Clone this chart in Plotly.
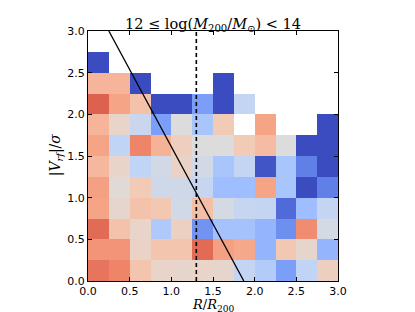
import plotly.graph_objects as go

# bin edges (R/R200 and |V_rf|/sigma)
x_edges = [0.0, 0.25, 0.5, 0.75, 1.0, 1.25, 1.5, 1.75, 2.0, 2.25, 2.5, 2.75, 3.0]
y_edges = [0.0, 0.25, 0.5, 0.75, 1.0, 1.25, 1.5, 1.75, 2.0, 2.25, 2.5, 2.75, 3.0]

# cell values on a 0..1 colour scale (None = empty bin), rows from bottom (y=0) to top
row0 = [0.83, 0.80, 0.62, 0.55, 0.54, 0.55, 0.54, 0.41, 0.36, 0.20, 0.40, 0.58]
row1 = [0.76, 0.76, 0.56, 0.62, 0.62, 0.85, 0.73, 0.71, 0.27, 0.61, 0.54, 0.27]
row2 = [0.85, 0.63, 0.55, 0.35, 0.57, 0.17, 0.32, 0.32, 0.27, 0.16, 0.78, 0.47]
row3 = [0.72, 0.54, 0.63, 0.61, 0.46, 0.64, 0.47, 0.42, 0.41, 0.07, 0.30, 0.41]
row4 = [0.73, 0.52, 0.60, 0.45, 0.45, 0.42, 0.30, 0.30, 0.72, 0.33, 0.00, 0.12]
row5 = [0.66, 0.55, 0.40, 0.46, 0.56, 0.46, 0.33, 0.41, 0.02, 0.33, 0.12, 0.00]
row6 = [0.72, 0.40, 0.80, 0.68, 0.58, 0.50, 0.50, 0.60, 0.65, 0.50, 0.00, 0.00]
row7 = [0.67, 0.55, 0.43, 0.20, 0.50, 0.33, 0.60, None, 0.72, None, None, 0.00]
row8 = [0.87, 0.72, 0.63, 0.00, 0.00, 0.20, 0.00, 0.41, None, None, None, None]
row9 = [0.67, 0.67, 0.00, None, None, None, 0.00, None, None, None, None, None]
row10 = [0.00, None, None, None, None, None, None, None, None, None, None, None]
row11 = [None, None, None, None, None, None, None, None, None, None, None, None]
z = [row0, row1, row2, row3, row4, row5, row6, row7, row8, row9, row10, row11]

# lines
line_x = [0.25, 1.87]
line_y = [3.0, 0.0]
dash_x = [1.3, 1.3]
dash_y = [0.0, 3.0]

tick_vals = [0.0, 0.5, 1.0, 1.5, 2.0, 2.5, 3.0]
tick_text = ["0.0", "0.5", "1.0", "1.5", "2.0", "2.5", "3.0"]

title_text = "12 ≤ log(<i>M</i><sub>200</sub>/<i>M</i><sub>⊙</sub>) &lt; 14"
xlabel_text = "<i>R</i>/<i>R</i><sub>200</sub>"
ylabel_text = "|<i>V</i><sub><i>rf</i></sub>|/<i>σ</i>"

coolwarm = [
    [0.0, "#3b4cc0"], [0.1, "#5977e3"], [0.2, "#7b9ff9"], [0.3, "#9ebeff"],
    [0.4, "#c0d4f5"], [0.5, "#dddcdc"], [0.6, "#f2cbb7"], [0.7, "#f7ac8e"],
    [0.8, "#ee8468"], [0.9, "#d65244"], [1.0, "#b40426"],
]

fig = go.Figure()
fig.add_trace(go.Heatmap(x=x_edges, y=y_edges, z=z, colorscale=coolwarm,
                         zmin=0, zmax=1, showscale=False, hoverongaps=False))
fig.add_trace(go.Scatter(x=line_x, y=line_y, mode="lines",
                         line=dict(color="black", width=1.3), showlegend=False))
fig.add_trace(go.Scatter(x=dash_x, y=dash_y, mode="lines",
                         line=dict(color="black", width=1.6, dash="4px,3px"), showlegend=False))

axis_common = dict(range=[0, 3], tickvals=tick_vals, ticktext=tick_text,
                   ticks="inside", ticklen=4, tickcolor="black", tickwidth=1,
                   showline=True, linecolor="black", linewidth=1, mirror="ticks",
                   showgrid=False, zeroline=False, automargin=False,
                   tickfont=dict(family="DejaVu Sans", size=11, color="black"))

serif = dict(family="DejaVu Serif", size=14, color="black")

fig.update_layout(
    width=415, height=312,
    margin=dict(l=80, r=85, t=23, b=39),
    paper_bgcolor="white", plot_bgcolor="white",
    xaxis=axis_common,
    yaxis=axis_common,
    showlegend=False,
    annotations=[
        dict(text=title_text, xref="paper", yref="paper", x=0.5, y=1.022,
             xanchor="center", yanchor="middle", showarrow=False,
             font=dict(family="DejaVu Serif", size=14.5, color="black")),
        dict(text=xlabel_text, xref="paper", yref="paper", x=0.5, y=-0.096,
             xanchor="center", yanchor="middle", showarrow=False,
             font=dict(family="DejaVu Serif", size=13, color="black")),
        dict(text=ylabel_text, xref="paper", yref="paper", x=-0.13, y=0.505,
             xanchor="center", yanchor="middle", showarrow=False, textangle=-90,
             font=serif),
    ],
)

fig.write_html("out.html")
